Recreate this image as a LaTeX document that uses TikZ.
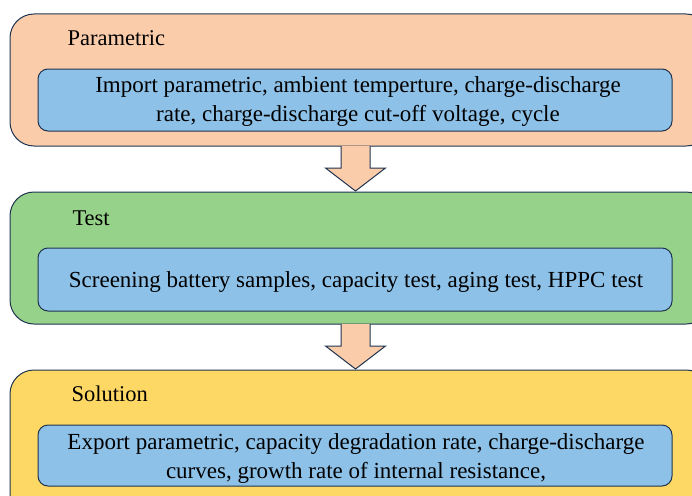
\documentclass[tikz,border=0pt]{standalone}
\usepackage{fontspec}
\setmainfont{Liberation Serif}
\usetikzlibrary{calc}
\definecolor{peach}{RGB}{251,204,170}
\definecolor{grn}{RGB}{150,210,137}
\definecolor{yel}{RGB}{254,216,100}
\definecolor{blu}{RGB}{142,193,232}
\definecolor{edge}{RGB}{32,52,80}
\tikzset{
  outerbox/.style={draw=edge, line width=1pt, rounded corners=24pt},
  innerbox/.style={draw=edge, line width=1pt, rounded corners=10pt, fill=blu},
  title/.style={font=\fontsize{22.5}{27}\selectfont, anchor=west},
  body/.style={font=\fontsize{23}{29}\selectfont, align=center},
  flowarrow/.style={draw=edge, line width=1pt, fill=peach, line join=miter}
}
\begin{document}
\begin{tikzpicture}[x=1pt,y=-1pt]
\useasboundingbox (0,0) rectangle (692,495);
\clip (0,0) rectangle (692,495);
% outer boxes
\draw[outerbox, fill=peach] (10,14) rectangle (710,146);
\draw[outerbox, fill=grn] (10,192) rectangle (710,324);
\draw[outerbox, fill=yel] (10,370) rectangle (710,520);
% titles
\node[title] (t1) at (64,38) {Parametric};
\node[title] (t2) at (69,218) {Test};
\node[title] (t3) at (68,394) {Solution};
% inner boxes
\draw[innerbox] (38,69) rectangle (672,131);
\node[body] (b1) at (358,102) {Import parametric, ambient temperture, charge-discharge\\rate, charge-discharge cut-off voltage, cycle};
\draw[innerbox] (38,248) rectangle (672,311);
\node[body] (b2) at (356,282) {Screening battery samples, capacity test, aging test, HPPC test};
\draw[innerbox] (38,425) rectangle (672,486);
\node[body] (b3) at (356,458) {Export parametric, capacity degradation rate, charge-discharge\\curves, growth rate of internal resistance,};
% arrows
\coordinate (a1) at (355.5,146);
\coordinate (a2) at (355.5,324);
\draw[flowarrow] ($(a1)+(-14.5,0)$) -- ($(a1)+(-14.5,22)$) -- ($(a1)+(-30,22)$) -- ($(a1)+(0,45)$) -- ($(a1)+(30,22)$) -- ($(a1)+(14.5,22)$) -- ($(a1)+(14.5,0)$);
\draw[flowarrow] ($(a2)+(-14.5,0)$) -- ($(a2)+(-14.5,22)$) -- ($(a2)+(-30,22)$) -- ($(a2)+(0,45)$) -- ($(a2)+(30,22)$) -- ($(a2)+(14.5,22)$) -- ($(a2)+(14.5,0)$);
\end{tikzpicture}
\end{document}
